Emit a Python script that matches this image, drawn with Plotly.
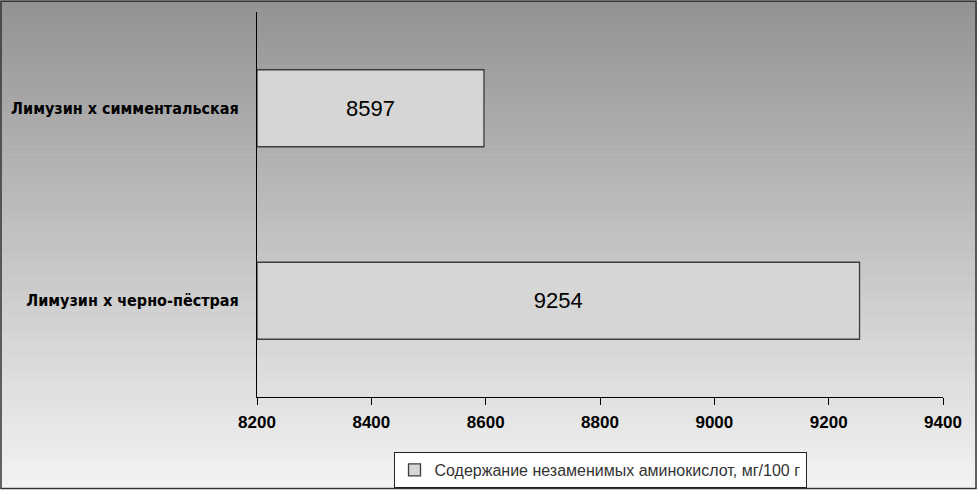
import plotly.graph_objects as go

# данные
categories = ["Лимузин х симментальская", "Лимузин х черно-пёстрая"]
values = [8597, 9254]
series_name = "Содержание незаменимых аминокислот, мг/100 г"
x_ticks = [8200, 8400, 8600, 8800, 9000, 9200, 9400]
x_min, x_max = 8200, 9400

W, H = 977, 500
M = dict(l=257, r=34, t=12, b=92)

fig = go.Figure()

fig.add_trace(go.Bar(
    y=categories,
    x=[v - x_min for v in values],
    base=[x_min] * len(values),
    orientation="h",
    name=series_name,
    text=[str(v) for v in values],
    textposition="inside",
    insidetextanchor="middle",
    textfont=dict(family="Liberation Sans, Arial", size=22, color="black"),
    marker=dict(color="#d6d6d6", line=dict(color="#3c3c3c", width=1.3)),
    width=0.4,
    customdata=values,
    hovertemplate="%{y}: %{customdata}<extra></extra>",
    showlegend=True,
))

# фон-градиент по вертикали (полосы в координатах paper)
plot_h = H - M["t"] - M["b"]
plot_w = W - M["l"] - M["r"]
n_bands = 60
shapes = []
for i in range(n_bands):
    py0 = H * i / n_bands
    py1 = H * (i + 1) / n_bands + 0.6
    g = int(147 + (243 - 147) * (i + 0.5) / n_bands)
    col = f"rgb({g},{g},{g})"
    shapes.append(dict(
        type="rect", xref="paper", yref="paper",
        x0=-M["l"] / plot_w - 0.01,
        x1=1 + M["r"] / plot_w + 0.01,
        y0=1 - (py1 - M["t"]) / plot_h,
        y1=1 - (py0 - M["t"]) / plot_h,
        fillcolor=col, line=dict(width=0), layer="below",
    ))
# рамка вокруг всего рисунка
shapes.append(dict(
    type="rect", xref="paper", yref="paper",
    x0=-(M["l"] - 1) / plot_w,
    x1=1 + (M["r"] - 1) / plot_w,
    y0=1 - (H + 2 - M["t"]) / plot_h,
    y1=1 + (M["t"] - 1) / plot_h,
    line=dict(color="#333333", width=1.5), layer="above",
))

fig.update_layout(
    width=W, height=H,
    margin=M,
    paper_bgcolor="rgba(0,0,0,0)",
    plot_bgcolor="rgba(0,0,0,0)",
    shapes=shapes,
    xaxis=dict(
        range=[x_min, x_max],
        tickvals=x_ticks,
        ticktext=[str(t) for t in x_ticks],
        ticks="outside", ticklen=7, tickcolor="black", tickwidth=1,
        ticklabelstandoff=3,
        showline=True, linecolor="black", linewidth=1,
        showgrid=False, zeroline=False,
        tickfont=dict(family="Liberation Sans, Arial", size=17, color="black", weight="bold"),
    ),
    yaxis=dict(
        autorange="reversed",
        showline=True, linecolor="black", linewidth=1,
        showgrid=False, zeroline=False,
        ticks="", ticklabelstandoff=14,
        tickfont=dict(family="DejaVu Sans Condensed, Liberation Sans",
                      size=16, color="black", weight="bold"),
    ),
    showlegend=True,
    legend=dict(
        orientation="h",
        x=0.5, xanchor="center",
        y=-0.143, yanchor="top",
        bgcolor="white",
        bordercolor="#222222", borderwidth=1,
        font=dict(family="Liberation Sans, Arial", size=16, color="#333333"),
    ),
)

fig.write_html(
    "out.html",
    config={"displayModeBar": False, "responsive": False},
    post_script="document.body.style.margin='0';",
)
